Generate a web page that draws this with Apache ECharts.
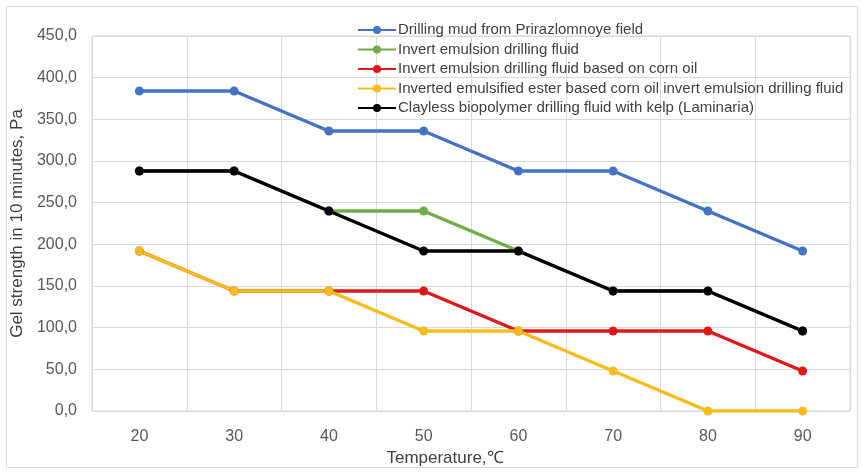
<!DOCTYPE html>
<html><head><meta charset="utf-8">
<script src="https://cdn.jsdelivr.net/npm/echarts@6/dist/echarts.min.js"></script>
<style>html,body{margin:0;padding:0;background:#fff}#c{width:862px;height:472px}</style>
</head><body><div id="c"></div>
<script>
const categories = ['20','30','40','50','60','70','80','90'];
const seriesNames = [
  'Drilling mud from Prirazlomnoye field',
  'Invert emulsion drilling fluid',
  'Invert emulsion drilling fluid based on corn oil',
  'Inverted emulsified ester based corn oil invert emulsion drilling fluid',
  'Clayless biopolymer drilling fluid with kelp (Laminaria)'
];
const prirazlomnoye = [384, 384, 336, 336, 288, 288, 240, 192];
const invertEmulsion = [288, 288, 240, 240, 192, 144, 144, 96];
const invertCornOil = [192, 144, 144, 144, 96, 96, 96, 48];
const esterCornOil = [192, 144, 144, 96, 96, 48, 0, 0];
const clayless = [288, 288, 240, 192, 192, 144, 144, 96];
const colors = ['#4472C4', '#70AD47', '#E01818', '#F5BC1C', '#000000'];
const dataSets = [prirazlomnoye, invertEmulsion, invertCornOil, esterCornOil, clayless];

const chart = echarts.init(document.getElementById('c'));
const font = 'Liberation Sans, Arial, sans-serif';
chart.setOption({
  animation: false,
  backgroundColor: '#fff',
  graphic: [{type:'rect', shape:{x:6.5,y:6.5,width:851,height:461}, style:{fill:'none', stroke:'#d9d9d9', lineWidth:1}}],
  grid: {left: 92, right: 12, top: 36, bottom: 61, show: true, borderColor: '#d9d9d9', borderWidth: 1},
  legend: {
    orient: 'vertical', left: 352, top: 17, itemGap: 3.5, itemWidth: 38, itemHeight: 10,
    textStyle: {fontFamily: font, fontSize: 15, lineHeight: 16, color: '#404040', padding:[0,0,0,-3]},
    data: seriesNames
  },
  xAxis: {
    type: 'category', data: categories, boundaryGap: true,
    name: 'Temperature,\u2103', nameLocation: 'middle', nameGap: 38,
    nameTextStyle: {fontFamily: font, fontSize: 17, color: '#404040', padding: [0, 52, 0, 0]},
    axisLine: {show: true, lineStyle: {color: '#d9d9d9'}},
    axisTick: {show: false},
    axisLabel: {fontFamily: font, fontSize: 16, color: '#595959', margin: 18},
    splitLine: {show: true, lineStyle: {color: '#d9d9d9'}}
  },
  yAxis: {
    type: 'value', min: 0, max: 450, interval: 50,
    name: 'Gel strength in 10 minutes, Pa', nameLocation: 'middle', nameGap: 53,
    nameTextStyle: {fontFamily: font, fontSize: 17, color: '#404040'},
    axisLine: {show: false}, axisTick: {show: false},
    axisLabel: {fontFamily: font, fontSize: 16, color: '#595959', margin: 15,
      formatter: v => v.toFixed(1).replace('.', ',')},
    splitLine: {show: true, lineStyle: {color: '#d9d9d9'}}
  },
  series: seriesNames.map((n, i) => ({
    name: n, type: 'line', data: dataSets[i],
    symbol: 'circle', symbolSize: 9,
    lineStyle: {width: 3.5, color: colors[i]},
    itemStyle: {color: colors[i]}
  }))
});
</script></body></html>
